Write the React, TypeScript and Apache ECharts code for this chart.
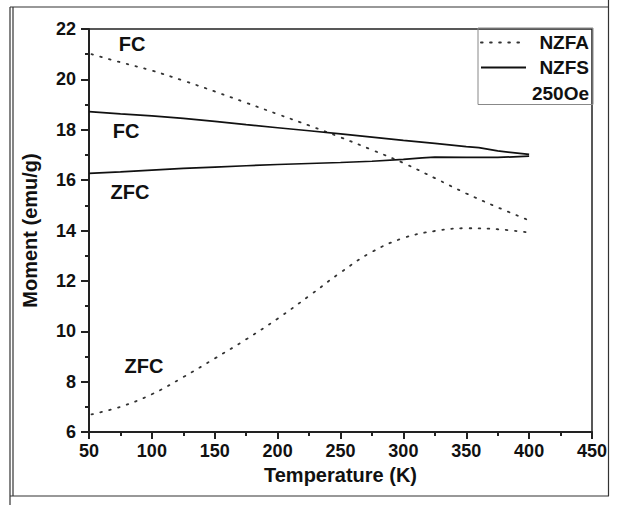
import React, { useEffect, useRef } from "react";
import * as echarts from "echarts";

const xTicks = { min: 50, max: 450, interval: 50 };
const yTicks = { min: 6, max: 22, interval: 2 };

const nzfaFcT = [52, 75, 100, 125, 150, 175, 200, 225, 250, 275, 300, 325, 350, 375, 400];
const nzfaFcM = [21.0, 20.68, 20.35, 19.95, 19.52, 19.07, 18.62, 18.17, 17.7, 17.2, 16.68, 16.08, 15.47, 14.92, 14.4];

const nzfaZfcT = [52, 75, 100, 125, 150, 175, 200, 225, 250, 275, 300, 325, 350, 375, 400];
const nzfaZfcM = [6.7, 7.0, 7.5, 8.18, 8.92, 9.68, 10.5, 11.4, 12.33, 13.15, 13.7, 13.98, 14.09, 14.05, 13.92];

const nzfsFcT = [50, 75, 100, 125, 150, 175, 200, 225, 250, 275, 300, 325, 350, 360, 375, 400];
const nzfsFcM = [18.72, 18.63, 18.55, 18.45, 18.33, 18.2, 18.08, 17.96, 17.84, 17.71, 17.58, 17.46, 17.33, 17.29, 17.16, 17.02];

const nzfsZfcT = [50, 75, 100, 125, 150, 175, 200, 225, 250, 275, 300, 315, 325, 350, 375, 400];
const nzfsZfcM = [16.27, 16.33, 16.4, 16.47, 16.52, 16.57, 16.62, 16.66, 16.7, 16.75, 16.82, 16.88, 16.91, 16.9, 16.9, 16.95];

const legendNames = ["NZFA", "NZFS", "250Oe"];
const xName = "Temperature (K)";
const yName = "Moment (emu/g)";

const pair = (t: number[], m: number[]) => t.map((v, i) => [v, m[i]]);

const FONT = "Liberation Sans, Arial, Helvetica, sans-serif";

export default function App() {
  const ref = useRef<HTMLDivElement>(null);
  useEffect(() => {
    if (!ref.current) return;
    const chart = echarts.init(ref.current, null, { renderer: "svg" });
    const dotted = {
      color: "#333",
      width: 1.8,
      type: [1.6, 7.5] as any,
      cap: "round" as any,
    };
    const solid = { color: "#111", width: 1.7, type: "solid" as any };
    const frame = { stroke: "#333", lineWidth: 1.2 };
    const labelStyle = (text: string, x: number, y: number) => ({
      type: "text",
      x,
      y,
      style: {
        text,
        font: `bold 20px ${FONT}`,
        fill: "#111",
        align: "center",
        verticalAlign: "middle",
      },
    });
    chart.setOption({
      animation: false,
      backgroundColor: "#ffffff",
      grid: {
        left: 89,
        right: 25,
        top: 29,
        bottom: 73,
        show: true,
        borderColor: "#222",
        borderWidth: 1.5,
      },
      legend: {
        orient: "vertical",
        left: 478,
        top: 28,
        padding: [5, 4, 2, 2],
        itemWidth: 45,
        itemHeight: 20,
        itemGap: 6,
        borderColor: "#888",
        borderWidth: 1,
        itemStyle: { opacity: 0 },
        data: [
          { name: legendNames[0] },
          { name: legendNames[1] },
          { name: legendNames[2], icon: "none" },
        ],
        formatter: "{a|{name}}",
        textStyle: {
          fontFamily: FONT,
          fontWeight: "bold",
          fontSize: 19,
          color: "#111",
          rich: {
            a: {
              width: 58,
              align: "right",
              fontFamily: FONT,
              fontWeight: "bold",
              fontSize: 19,
              color: "#111",
            },
          },
        },
      },
      xAxis: {
        type: "value",
        min: xTicks.min,
        max: xTicks.max,
        interval: xTicks.interval,
        name: xName,
        nameLocation: "middle",
        nameGap: 33,
        nameTextStyle: { fontFamily: FONT, fontWeight: "bold", fontSize: 20, color: "#111" },
        axisLine: { onZero: false, lineStyle: { color: "#222", width: 2 } },
        axisTick: { length: 7, lineStyle: { color: "#222", width: 2 } },
        minorTick: { show: true, splitNumber: 2, length: 4, lineStyle: { color: "#222", width: 2 } },
        splitLine: { show: false },
        axisLabel: { margin: 10, fontFamily: FONT, fontWeight: "bold", fontSize: 18, color: "#111" },
      },
      yAxis: {
        type: "value",
        min: yTicks.min,
        max: yTicks.max,
        interval: yTicks.interval,
        name: yName,
        nameLocation: "middle",
        nameGap: 49,
        nameTextStyle: { fontFamily: FONT, fontWeight: "bold", fontSize: 20, color: "#111" },
        axisLine: { onZero: false, lineStyle: { color: "#222", width: 2 } },
        axisTick: { length: 8, lineStyle: { color: "#222", width: 2 } },
        minorTick: { show: true, splitNumber: 2, length: 4, lineStyle: { color: "#222", width: 2 } },
        splitLine: { show: false },
        axisLabel: { margin: 13, fontFamily: FONT, fontWeight: "bold", fontSize: 18, color: "#111" },
      },
      series: [
        {
          name: "NZFA",
          type: "line",
          data: pair(nzfaFcT, nzfaFcM),
          showSymbol: false,
          symbol: "none",
          smooth: 0.4,
          lineStyle: dotted,
          itemStyle: { color: "#333" },
        },
        {
          name: "NZFA",
          type: "line",
          data: pair(nzfaZfcT, nzfaZfcM),
          showSymbol: false,
          symbol: "none",
          smooth: 0.4,
          lineStyle: dotted,
          itemStyle: { color: "#333" },
        },
        {
          name: "NZFS",
          type: "line",
          data: pair(nzfsFcT, nzfsFcM),
          showSymbol: false,
          symbol: "none",
          lineStyle: solid,
          itemStyle: { color: "#111" },
        },
        {
          name: "NZFS",
          type: "line",
          data: pair(nzfsZfcT, nzfsZfcM),
          showSymbol: false,
          symbol: "none",
          lineStyle: solid,
          itemStyle: { color: "#111" },
        },
        {
          name: "250Oe",
          type: "line",
          data: [],
          showSymbol: false,
          symbol: "none",
          lineStyle: { opacity: 0 },
          itemStyle: { opacity: 0 },
        },
      ],
      graphic: [
        labelStyle("FC", 132, 44),
        labelStyle("FC", 126, 131),
        labelStyle("ZFC", 130, 192),
        labelStyle("ZFC", 144, 366),
        { type: "line", shape: { x1: 10, y1: 7, x2: 608, y2: 7 }, style: frame },
        { type: "line", shape: { x1: 10, y1: 7, x2: 10, y2: 505 }, style: frame },
        { type: "line", shape: { x1: 13, y1: 7, x2: 13, y2: 496 }, style: frame },
        { type: "line", shape: { x1: 10, y1: 496, x2: 609, y2: 496 }, style: frame },
        { type: "line", shape: { x1: 608.5, y1: 0, x2: 608.5, y2: 496 }, style: frame },
      ],
    });
    return () => chart.dispose();
  }, []);
  return (
    <div
      ref={ref}
      style={{ position: "fixed", left: 0, top: 0, width: 617, height: 505 }}
    />
  );
}
